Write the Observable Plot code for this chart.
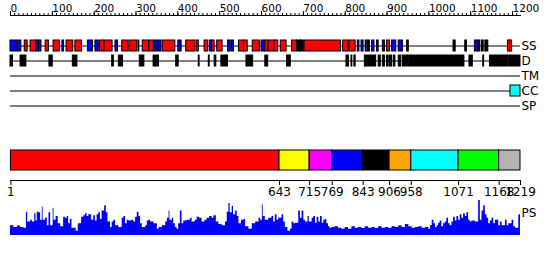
<!DOCTYPE html>
<html><head><meta charset="utf-8">
<script src="https://cdn.jsdelivr.net/npm/d3@7"></script>
<script src="https://cdn.jsdelivr.net/npm/@observablehq/plot@0.6"></script>
<style>
body{margin:0;background:#fff;}
#chart{position:relative;width:550px;height:260px;background:#fff;overflow:hidden;}
#chart svg{position:absolute;left:0;top:0;}
</style></head><body><div id="chart"></div>
<script>
const seqLength = 1219;
const topTickLabels = [0,100,200,300,400,500,600,700,800,900,1000,1100,1200];
const tracks = ["SS","D","TM","CC","SP"];

// secondary structure: H = helix, E = strand, C = other
const ssStart = [0,16,34,48,62,68,84,103,124,134,155,185,203,214,225,251,267,284,306,316,332,344,353,364,401,420,445,464,476,482,494,520,528,546,558,579,600,609,617,631,646,673,685,693,695,703,795,810,830,839,849,853,857,864,876,890,900,912,928,948,1059,1087,1110,1119,1127,1135,1189,1194];
const ssEnd   = [14,26,41,62,68,74,92,118,128,150,171,197,211,224,244,257,281,303,308,331,342,351,361,394,409,442,450,472,482,488,507,526,534,558,567,596,608,616,631,640,660,685,693,695,701,790,808,825,834,844,851,855,859,870,880,895,907,922,938,952,1064,1091,1118,1123,1131,1142,1194,1199];
const ssType  = ["E","E","H","H","E","E","H","H","E","H","H","E","E","H","H","E","H","H","C","H","H","E","E","H","E","H","H","H","E","H","H","E","E","H","H","H","E","H","H","H","H","H","C","E","C","H","H","H","E","E","E","E","E","E","E","E","H","E","E","E","C","C","E","C","C","C","H","H"];

// disorder
const disStart = [0,4,24,93,149,243,259,309,342,353,396,450,474,488,504,564,609,661,803,815,822,847,880,890,900,907,916,928,938,952,1097,1130,1146,1192];
const disEnd   = [2,6,38,101,160,247,269,320,351,355,402,452,476,492,520,580,616,670,809,817,825,874,885,895,904,912,920,934,950,1085,1105,1132,1190,1219];

// coiled coil
const ccStart = [1195];
const ccEnd = [1219];

// domains
const domainNames = ["D1","D2","D3","D4","D5","D6","D7","D8","D9"];
const domainStart = [1,643,715,769,843,906,958,1071,1168];
const domainEnd   = [643,715,769,843,906,958,1071,1168,1219];
const boundaryTicks = [1,643,715,769,843,906,958,1071,1168,1219];

// PS profile
const psPos = [0,8,16,24,32,38,41,48,52,58,61,64,68,72,76,78,84,88,92,96,102,104,109,114,120,127,131,136,139,143,147,157,162,170,175,179,183,187,194,199,203,207,211,215,219,225,229,233,239,243,247,251,259,267,271,275,279,283,289,295,299,303,307,311,315,323,327,331,335,343,351,355,363,371,375,379,381,387,390,394,398,402,406,410,414,422,430,434,442,446,452,458,465,470,476,482,486,492,498,506,514,518,522,525,530,533,538,542,546,552,558,562,570,578,586,594,598,602,604,
609,617,625,629,633,637,641,649,653,657,663,669,673,677,681,689,693,697,701,705,711,714,721,725,729,733,737,741,745,749,753,756,760,764,768,776,784,792,800,808,816,824,832,840,848,856,864,872,880,888,896,904,912,920,928,936,944,952,960,968,976,984,992,1000,1004,1008,1012,1016,1020,1023,1027,1031,1035,1039,1043,1047,1051,1055,1059,1063,1067,1071,1075,1079,1083,1087,1091,1095,1099,1103,1111,1119,1123,1127,1131,1135,1139,1143,1147,1151,1155,1159,1167,1171,1175,1183,1187,1191,1199,1203,1207,1215,1219];
const psVal = [9,7.3,8.7,7.3,6.7,21.3,12.3,14,12.3,20,13.3,21.3,20.7,14,26,14,16,9,20.7,9,25,14,17.3,10.7,8,16.7,15.7,17.3,10.7,14.7,6.7,4,10.7,16.7,18,20,17.3,19,14,18,13.3,19,20.7,14.7,22.3,27.3,20.7,12.3,7.3,12.3,14,9,7.3,15.7,17.3,10.7,14,13.3,14,12.3,16.7,21.3,17.3,10.7,7.3,9,13.3,14,12.3,10.7,5.7,7.3,9,12.3,15.7,22.3,14,15.7,10.7,7.3,5.7,10.7,22.3,10.7,13.3,14,15.7,12.3,14,16.7,15.7,12.3,14,15.7,17.3,15.7,18,12.3,10,9,12.3,21.3,29.3,20.7,26.7,19,22.3,17.3,10.7,14,14.7,8,5.7,10.7,12.3,15.7,14,28,17.3,
14,15.7,17.3,12.3,19,14,15.7,19,12.3,7.3,4,5.7,12.3,10.7,11.3,22.3,15.7,22.3,14,12.3,17.3,12.3,15.7,17.3,11.3,16.7,12.3,17.3,11.3,14,14.7,10.7,8,6.7,7.3,8,6.7,5.7,7.3,5.7,8,6.7,7.3,6.3,8,6.7,7.3,6.3,8,6.7,7.3,6.7,8,7.3,9,7.3,10,8,6.7,7.3,8,6.7,7.3,5.7,9,14,10.7,7.3,9,11.3,13.3,8,10.7,12.3,15.7,10.7,9,12.3,16.7,13.3,17.3,14,19,15.7,20,17.3,20.7,14,12.3,13.3,12.3,32,14,22.3,27.3,19,15.7,10.7,13.3,15.7,10.7,14,9,12.3,9,14,9,10.7,14,8,6.7,19,24];

const ss = ssStart.map((s,i)=>({start:s,end:ssEnd[i],type:ssType[i]}));
const dis = disStart.map((s,i)=>({start:s,end:disEnd[i]}));
const cc = ccStart.map((s,i)=>({start:s,end:ccEnd[i]}));
const domains = domainStart.map((s,i)=>({name:domainNames[i],start:s,end:domainEnd[i]}));
const ps = psPos.map((p,i)=>({pos:p,val:psVal[i]}));

const W = 550, H = 260;
const base = {
  width: W, height: H, marginLeft: 10, marginRight: 30,
  x: {domain: [0, seqLength]},
  style: {fontFamily: "DejaVu Sans", fontSize: "12px", background: "transparent", overflow: "visible"}
};
const chart = document.getElementById("chart");

// top ruler
chart.append(Plot.plot({...base, marginTop: 15, marginBottom: H - 16,
  marks: [
    Plot.frame({anchor: "top", stroke: "black"}),
    Plot.axisX({anchor: "top", ticks: d3.range(0, 1220, 10), tickSize: 3, tickFormat: () => ""}),
    Plot.axisX({anchor: "top", ticks: topTickLabels, tickSize: 5, tickFormat: () => ""}),
    Plot.text(topTickLabels, {x: d => d, text: d => String(d), frameAnchor: "top", textAnchor: "start", lineAnchor: "bottom", dy: -4, fontSize: 10.5})
  ]
}));

// feature tracks
chart.append(Plot.plot({...base, marginTop: 38, marginBottom: H - 113,
  x: {domain: [0, seqLength], axis: null},
  y: {type: "band", domain: tracks, paddingInner: 0.27, paddingOuter: 0.135, axis: null},
  color: {domain: ["H","E","C"], range: ["#ff0000","#0000ff","#000000"]},
  marks: [
    Plot.ruleY(tracks, {y: d => d, stroke: "black"}),
    Plot.barX(ss, {x1: "start", x2: "end", y: () => "SS", fill: "type", stroke: "black", strokeWidth: 1}),
    Plot.barX(dis, {x1: "start", x2: "end", y: () => "D", fill: "black", stroke: "black", strokeWidth: 1}),
    Plot.barX(cc, {x1: "start", x2: "end", y: () => "CC", fill: "#00ffff", stroke: "black", strokeWidth: 1}),
    Plot.text(tracks, {y: d => d, text: d => d, frameAnchor: "right", textAnchor: "start", dx: 1})
  ]
}));

// domain bar
chart.append(Plot.plot({...base, marginTop: 150, marginBottom: H - 170,
  x: {domain: [0, seqLength], axis: null},
  color: {domain: domainNames, range: ["#ff0000","#ffff00","#ff00ff","#0000ff","#000000","#ffa500","#00ffff","#00ff00","#b3b3b3"]},
  marks: [
    Plot.barX(domains, {x1: "start", x2: "end", fill: "name", stroke: "black", strokeWidth: 1})
  ]
}));

// domain boundary axis
chart.append(Plot.plot({...base, marginTop: 170, marginBottom: H - 180,
  marks: [
    Plot.frame({anchor: "bottom", stroke: "black"}),
    Plot.axisX({anchor: "bottom", ticks: boundaryTicks, tickSize: 5, tickPadding: 2, tickFormat: d => String(d), fontSize: 12})
  ]
}));

// PS profile
chart.append(Plot.plot({...base, marginTop: 200, marginBottom: H - 235,
  x: {domain: [0, seqLength], axis: null},
  y: {domain: [0, 32], axis: null},
  marks: [
    Plot.areaY(ps, {x: "pos", y: "val", fill: "#0000ff", curve: "step-after"}),
    Plot.text(["PS"], {text: d => d, frameAnchor: "top-right", textAnchor: "start", dx: 1, dy: 8})
  ]
}));
</script></body></html>
